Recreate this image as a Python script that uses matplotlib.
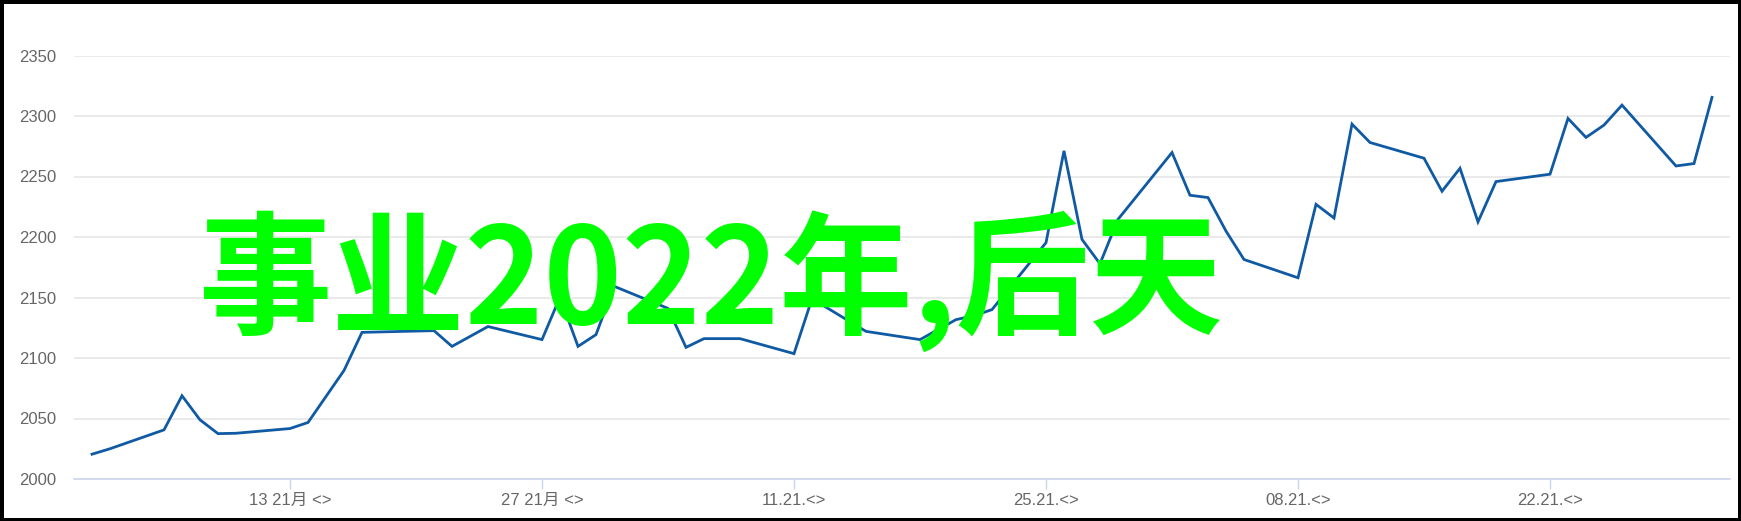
import numpy as np
import matplotlib.pyplot as plt

# dias (desde la primera marca) y valores de la serie
dias = [-11, -10, -7, -6, -5, -4, -3, 0, 1, 3, 4, 8, 9, 11, 14, 15, 16, 17, 18, 21,
        22, 23, 25, 28, 29, 32, 35, 37, 38, 39, 42, 43, 44, 45, 46, 49, 50, 51, 52, 53,
        56, 57, 58, 59, 60, 63, 64, 65, 66, 67, 70, 71, 72, 73, 74, 77, 78, 79]
valores = [2020.5, 2025, 2040.6, 2068.8, 2048.9, 2037.5, 2037.8, 2041.7, 2046.7, 2089.7,
           2121.2, 2122.6, 2109.6, 2126, 2115.2, 2150.3, 2109.6, 2119.3, 2159.3, 2141,
           2108.8, 2116, 2116, 2103.6, 2149, 2122, 2115.2, 2131.7, 2135, 2140,
           2195.3, 2271.2, 2198, 2177.9, 2214.6, 2269.8, 2234.5, 2232.6, 2204.9, 2181.4,
           2166.3, 2227, 2215.7, 2293.3, 2278.1, 2265.1, 2237.8, 2256.8, 2212.5, 2245.8,
           2251.9, 2298, 2282.3, 2292.5, 2309, 2258.7, 2260.7, 2315.4]

# marcas del eje x
marcas = [0, 14, 28, 42, 56, 70]
etiquetas = ['13 21月 <>', '27 21月 <>', '11.21.<>', '25.21.<>', '08.21.<>', '22.21.<>']
marcas_y = [2000, 2050, 2100, 2150, 2200, 2250, 2300, 2350]

titulo = '事业2022年,后天'

W, H = 1741, 521
fig = plt.figure(figsize=(W / 100, H / 100), dpi=100)
fig.patch.set_edgecolor('black')
fig.patch.set_linewidth(5)

ax = fig.add_axes([74 / W, 1 - 479 / H, (1730 - 74) / W, (479 - 55.5) / H])
ax.plot(dias, valores, color='#0f5aa3', linewidth=2.0, solid_joinstyle='miter', zorder=3)

ax.set_xlim(-12, 80)
ax.set_ylim(2000, 2350)

# rejilla horizontal gris clara
ax.set_yticks(marcas_y)
ax.grid(axis='y', color='#e6e6e6', linewidth=1.2)
ax.set_axisbelow(True)

for s in ['top', 'right', 'left']:
    ax.spines[s].set_visible(False)
ax.spines['bottom'].set_color('#ccd6eb')
ax.spines['bottom'].set_linewidth(1.2)
ax.spines['bottom'].set_zorder(2)

ax.set_xticks(marcas)
ax.set_xticklabels(etiquetas)
ax.tick_params(axis='x', length=7, width=1, color='#ccd6eb', pad=3,
               labelcolor='#666666', labelsize=12)
ax.tick_params(axis='y', length=0, pad=13, labelcolor='#666666', labelsize=12)
for lab in ax.get_xticklabels() + ax.get_yticklabels():
    lab.set_family(['Liberation Sans', 'Noto Sans CJK SC'])

# texto verde encima del grafico
fig.text(199 / W, 1 - 282 / H, titulo, color='#00ff00', fontsize=96,
         family=['Noto Sans CJK SC'], fontweight='bold', ha='left', va='center', zorder=10)

fig.savefig('out.png', dpi=100)
